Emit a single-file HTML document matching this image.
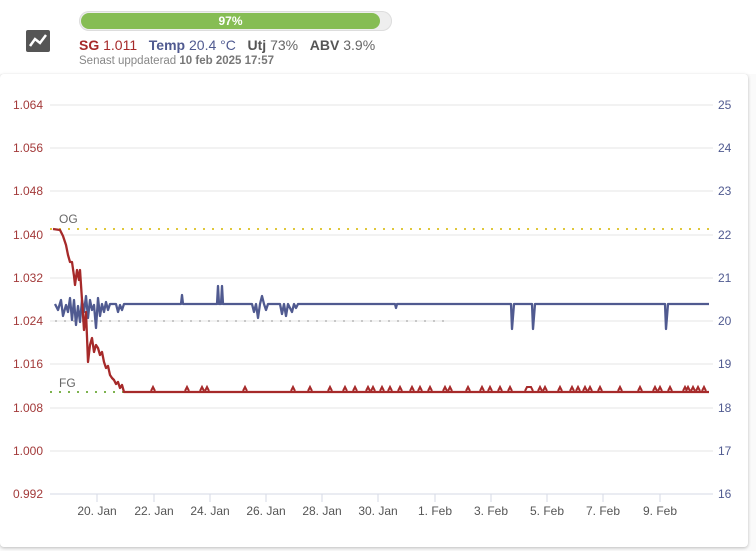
<!DOCTYPE html>
<html><head><meta charset="utf-8"><style>
body{margin:0;width:756px;height:551px;background:#fafafa;font-family:"Liberation Sans",sans-serif;overflow:hidden;position:relative}
.card{position:absolute;left:0;top:74px;width:748px;height:473px;background:#fff;border-radius:4px;box-shadow:0 1px 3px rgba(0,0,0,.25)}
</style></head><body>
<div style="position:absolute;left:0;top:0;width:756px;height:74px;background:#fff"></div>
<div style="position:absolute;left:79px;top:11px;width:313px;height:20px;border-radius:10px;background:#eee;box-shadow:inset 0 0 0 1px #ddd"></div>
<div style="position:absolute;left:81px;top:13px;width:299px;height:16px;border-radius:8px;background:#86bd54;color:#fff;font-weight:bold;font-size:12px;text-align:center;line-height:16px">97%</div>
<svg style="position:absolute;left:26px;top:30px" width="24" height="22"><rect width="24" height="22" rx="2" fill="#555"/><polyline points="4,16 9,9 14,13 20,5" fill="none" stroke="#fff" stroke-width="2.5"/></svg>
<div style="position:absolute;left:79px;top:37px;font-size:14px;color:#666;white-space:nowrap"><b style="color:#a62a2a">SG</b> <span style="color:#a62a2a">1.011</span>&nbsp;&nbsp; <b style="color:#505a90">Temp</b> <span style="color:#505a90">20.4 °C</span>&nbsp;&nbsp; <b style="color:#555">Utj</b> 73%&nbsp;&nbsp; <b style="color:#555">ABV</b> 3.9%</div>
<div style="position:absolute;left:79px;top:55px;font-size:11.5px;color:#888;white-space:nowrap">Senast uppdaterad <b style="color:#777">10 feb 2025 17:57</b></div>
<div class="card"></div>
<svg style="position:absolute;left:0;top:0" width="756" height="551" font-family="Liberation Sans, sans-serif" font-size="12">
<g stroke="#e6e6e6" stroke-width="1">
<line x1="50" x2="713" y1="105" y2="105"/><line x1="50" x2="713" y1="148" y2="148"/><line x1="50" x2="713" y1="191" y2="191"/><line x1="50" x2="713" y1="235" y2="235"/><line x1="50" x2="713" y1="278" y2="278"/><line x1="50" x2="713" y1="321" y2="321"/><line x1="50" x2="713" y1="364" y2="364"/><line x1="50" x2="713" y1="408" y2="408"/><line x1="50" x2="713" y1="451" y2="451"/>
</g>
<line x1="50" x2="713" y1="494" y2="494" stroke="#d6dae6"/>
<g stroke="#d6dae6"><line x1="97" x2="97" y1="494" y2="502"/><line x1="154" x2="154" y1="494" y2="502"/><line x1="210" x2="210" y1="494" y2="502"/><line x1="266" x2="266" y1="494" y2="502"/><line x1="322" x2="322" y1="494" y2="502"/><line x1="378" x2="378" y1="494" y2="502"/><line x1="435" x2="435" y1="494" y2="502"/><line x1="491" x2="491" y1="494" y2="502"/><line x1="547" x2="547" y1="494" y2="502"/><line x1="603" x2="603" y1="494" y2="502"/><line x1="660" x2="660" y1="494" y2="502"/></g>
<g fill="#a33a3a" text-anchor="end"><text x="43" y="109">1.064</text><text x="43" y="152">1.056</text><text x="43" y="195">1.048</text><text x="43" y="239">1.040</text><text x="43" y="282">1.032</text><text x="43" y="325">1.024</text><text x="43" y="368">1.016</text><text x="43" y="412">1.008</text><text x="43" y="455">1.000</text><text x="43" y="498">0.992</text></g>
<g fill="#505a90"><text x="718" y="109">25</text><text x="718" y="152">24</text><text x="718" y="195">23</text><text x="718" y="239">22</text><text x="718" y="282">21</text><text x="718" y="325">20</text><text x="718" y="368">19</text><text x="718" y="412">18</text><text x="718" y="455">17</text><text x="718" y="498">16</text></g>
<g fill="#555" text-anchor="middle"><text x="97" y="515">20. Jan</text><text x="154" y="515">22. Jan</text><text x="210" y="515">24. Jan</text><text x="266" y="515">26. Jan</text><text x="322" y="515">28. Jan</text><text x="378" y="515">30. Jan</text><text x="435" y="515">1. Feb</text><text x="491" y="515">3. Feb</text><text x="547" y="515">5. Feb</text><text x="603" y="515">7. Feb</text><text x="660" y="515">9. Feb</text></g>
<line x1="50" x2="713" y1="229" y2="229" stroke="#e0c83a" stroke-width="2" stroke-dasharray="2,7"/>
<line x1="50" x2="125" y1="392" y2="392" stroke="#7db34f" stroke-width="2" stroke-dasharray="2,7"/>
<line x1="55" x2="445" y1="321" y2="321" stroke="#c8c8c8" stroke-width="2" stroke-dasharray="2,7"/>
<text x="59" y="223" fill="#666">OG</text><text x="59" y="387" fill="#666">FG</text>
<polyline fill="none" stroke="#505a90" stroke-width="2.3" stroke-linejoin="round" points="55,304 58,310 61,300 63,316 66,305 68,312 70,298 72,320 74,300 76,325 78,306 80,322 82,300 84,312 86,296 88,318 90,300 92,310 94,305 96,328 98,298 100,316 102,304 104,312 106,302 108,310 110,304 116,304 118,312 120,305 122,310 124,304 181,304 182,295 183,304 217,304 218,286 219,304 221,304 222,286 223,304 252,304 254,312 256,304 258,318 260,304 262,296 264,304 266,310 268,304 280,304 282,314 284,304 286,316 288,304 292,312 294,304 296,308 298,304 395,304 396,308 397,304 511,304 512,329 514,304 532,304 533,329 535,304 665,304 666,329 668,304 709,304"/>
<polyline fill="none" stroke="#a62a2a" stroke-width="2.3" stroke-linejoin="round" points="53,229 60,230 63,236 66,245 68,255 70,262 72,262 74,276 75,285 77,270 79,280 80,270 82,300 84,330 86,312 88,362 90,345 92,338 94,352 96,345 98,348 100,355 102,352 104,362 106,368 108,366 110,375 112,378 114,380 116,384 118,382 120,388 122,385 124,392 709,392"/>
<g fill="none" stroke="#a62a2a" stroke-width="2"><path d="M151,391 L153,387 L155,391 M185,391 L187,387 L189,391 M200,391 L202,387 L204,391 M205,391 L207,387 L209,391 M243,391 L245,387 L247,391 M291,391 L293,387 L295,391 M308,391 L310,387 L312,391 M328,391 L330,387 L332,391 M343,391 L345,387 L347,391 M353,391 L355,387 L357,391 M366,391 L368,387 L370,391 M371,391 L373,387 L375,391 M380,391 L382,387 L384,391 M388,391 L390,387 L392,391 M398,391 L400,387 L402,391 M410,391 L412,387 L414,391 M418,391 L420,387 L422,391 M428,391 L430,387 L432,391 M443,391 L445,387 L447,391 M448,391 L450,387 L452,391 M466,391 L468,387 L470,391 M480,391 L482,387 L484,391 M488,391 L490,387 L492,391 M498,391 L500,387 L502,391 M508,391 L510,387 L512,391 M525,391 L527,387 L531,387 L533,391 M538,391 L540,387 L542,391 M543,391 L545,387 L547,391 M558,391 L560,387 L562,391 M570,391 L572,387 L574,391 M576,391 L578,387 L580,391 M583,391 L585,387 L587,391 M588,391 L590,387 L592,391 M598,391 L600,387 L602,391 M618,391 L620,387 L622,391 M638,391 L640,387 L642,391 M653,391 L655,387 L657,391 M658,391 L660,387 L662,391 M668,391 L670,387 L672,391 M683,391 L685,387 L687,391 M686,391 L688,387 L690,391 M691,391 L693,387 L695,391 M696,391 L698,387 L700,391 M702,391 L704,387 L706,391"/></g>
</svg>
</body></html>
